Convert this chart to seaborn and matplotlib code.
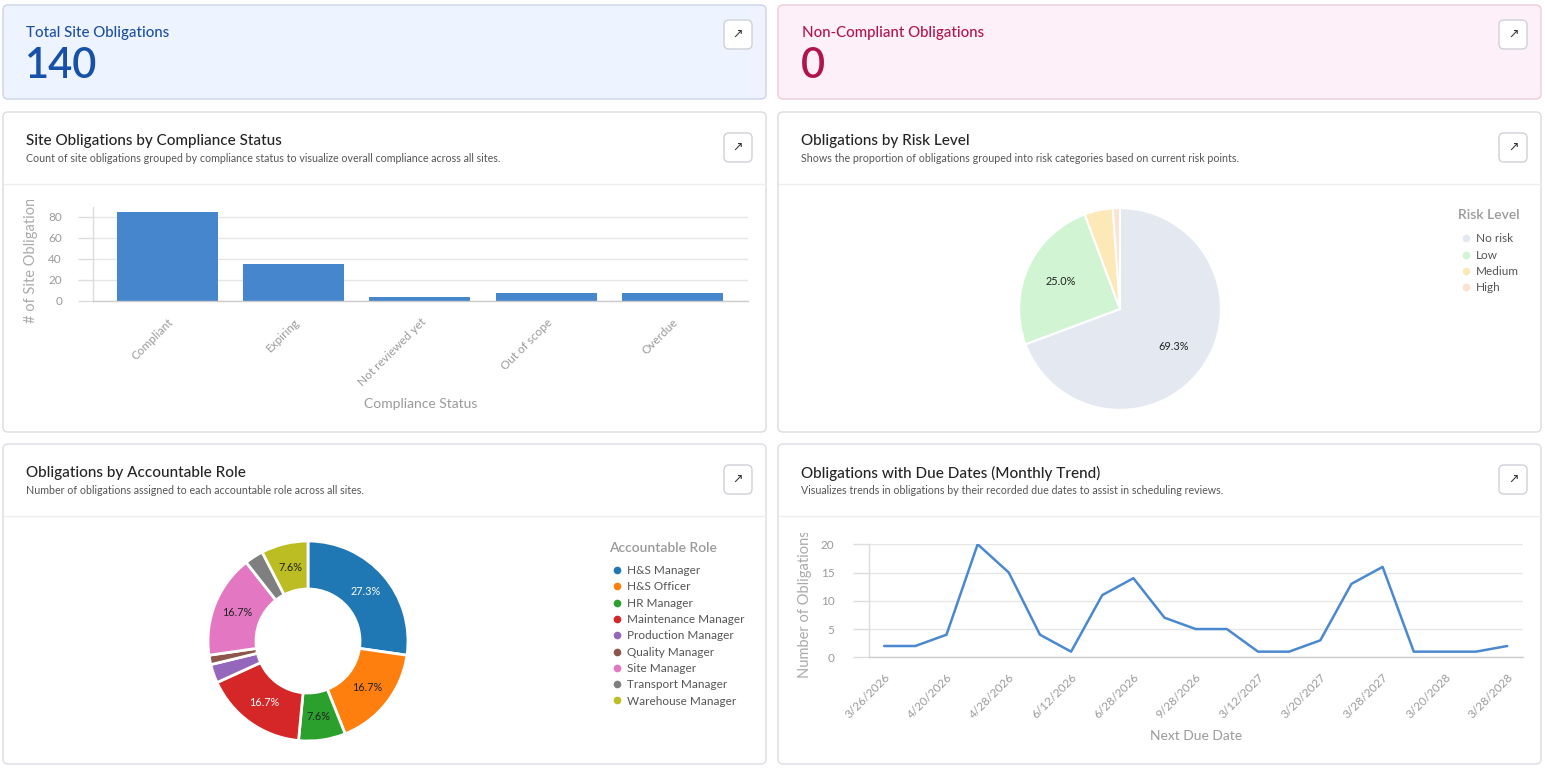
import matplotlib
matplotlib.use('Agg')
import matplotlib.pyplot as plt
import seaborn as sns
import pandas as pd
import numpy as np
from matplotlib.patches import FancyBboxPatch
from matplotlib.lines import Line2D
from matplotlib.transforms import Bbox, TransformedBbox, IdentityTransform

# ---------------- data ----------------
total_obligations = 140
non_compliant = 0

status_labels = ['Compliant', 'Expiring', 'Not reviewed yet', 'Out of scope', 'Overdue']
status_counts = [85, 35, 4, 8, 8]

risk_levels = ['No risk', 'Low', 'Medium', 'High']
risk_counts = [61, 22, 4, 1]
risk_colors = ['#e4e8f1', '#d1f5d3', '#fde8b8', '#fde3cf']

roles = ['H&S Manager', 'H&S Officer', 'HR Manager', 'Maintenance Manager',
         'Production Manager', 'Quality Manager', 'Site Manager',
         'Transport Manager', 'Warehouse Manager']
role_counts = [18, 11, 5, 11, 2, 1, 11, 2, 5]
role_colors = ['#1f77b4', '#ff7f0e', '#2ca02c', '#d62728', '#9467bd',
               '#8c564b', '#e377c2', '#7f7f7f', '#bcbd22']

due_dates = ['3/26/2026', '3/31/2026', '4/20/2026', '4/26/2026', '4/28/2026',
             '5/28/2026', '6/12/2026', '6/20/2026', '6/28/2026', '7/28/2026',
             '9/28/2026', '12/28/2026', '3/12/2027', '3/15/2027', '3/20/2027',
             '3/26/2027', '3/28/2027', '6/28/2027', '3/20/2028', '3/26/2028',
             '3/28/2028']
due_counts = [2, 2, 4, 20, 15, 4, 1, 11, 14, 7, 5, 5, 1, 1, 3, 13, 16, 1, 1, 1, 2]

# ---------------- setup ----------------
W, H = 1545, 768
sns.set_theme(style='white')
plt.rcParams['font.family'] = ['Lato', 'DejaVu Sans']

fig = plt.figure(figsize=(W / 100, H / 100), dpi=100)
fig.patch.set_facecolor('white')
bg = fig.add_axes([0, 0, 1, 1], zorder=-10)
bg.set_xlim(0, W)
bg.set_ylim(H, 0)
bg.axis('off')

TITLE_C = '#242424'
SUB_C = '#555555'
AX_C = '#9a9a9a'


def px_axes(x0, y0, x1, y1):
    return fig.add_axes([x0 / W, 1 - y1 / H, (x1 - x0) / W, (y1 - y0) / H])


def card(x0, y0, x1, y1, fc='white', ec='#d9dce1'):
    bg.add_patch(FancyBboxPatch((x0, y0), x1 - x0, y1 - y0,
                                boxstyle='round,pad=0,rounding_size=5',
                                fc=fc, ec=ec, lw=1))


def button(x0, y0):
    bg.add_patch(FancyBboxPatch((x0, y0), 28, 29,
                                boxstyle='round,pad=0,rounding_size=5',
                                fc='white', ec='#cdd1d8', lw=1))
    bg.text(x0 + 14, y0 + 14.5, '\u2197', ha='center', va='center',
            fontsize=9, color='#333333', family='DejaVu Sans')


def chart_card(x0, y0, x1, y1, title, sub):
    card(x0, y0, x1, y1)
    bg.text(x0 + 23, y0 + 29, title, ha='left', va='center', fontsize=11,
            color=TITLE_C, weight='medium')
    bg.text(x0 + 23, y0 + 46, sub, ha='left', va='center', fontsize=7.7,
            color=SUB_C)
    bg.plot([x0 + 0.5, x1 - 0.5], [y0 + 72, y0 + 72], color='#eeeeee', lw=1)
    button(x1 - 42, y0 + 21)


# KPI cards
card(3, 5, 766, 99, fc='#eef4ff', ec='#c9d3e6')
bg.text(26, 33, 'Total Site Obligations', ha='left', va='center', fontsize=10.8,
        color='#1c4fa3', weight='medium')
bg.text(25, 78, str(total_obligations), ha='left', va='baseline', fontsize=30,
        color='#1650a8', weight='semibold')
button(724, 20)

card(778, 5, 1541, 99, fc='#fdf0f8', ec='#ecccdc')
bg.text(802, 33, 'Non-Compliant Obligations', ha='left', va='center', fontsize=10.8,
        color='#b0144a', weight='medium')
bg.text(801, 78, str(non_compliant), ha='left', va='baseline', fontsize=30,
        color='#b0144a', weight='semibold')
button(1499, 20)

chart_card(3, 112, 766, 432, 'Site Obligations by Compliance Status',
           'Count of site obligations grouped by compliance status to visualize overall compliance across all sites.')
chart_card(778, 112, 1541, 432, 'Obligations by Risk Level',
           'Shows the proportion of obligations grouped into risk categories based on current risk points.')
chart_card(3, 444, 766, 764, 'Obligations by Accountable Role',
           'Number of obligations assigned to each accountable role across all sites.')
chart_card(778, 444, 1541, 764, 'Obligations with Due Dates (Monthly Trend)',
           'Visualizes trends in obligations by their recorded due dates to assist in scheduling reviews.')


def style_axes(ax):
    for s in ['top', 'right']:
        ax.spines[s].set_visible(False)
    for s in ['left', 'bottom']:
        ax.spines[s].set_color('#cccccc')
        ax.spines[s].set_linewidth(1)
    ax.spines['left'].set_color('#dddddd')
    ax.grid(axis='y', color='#e6e6e6', lw=1)
    ax.set_axisbelow(True)
    ax.set_facecolor('none')


def clip_label(label, top_px):
    label.set_clip_on(True)
    label.set_clip_box(TransformedBbox(Bbox.from_extents(0, 0, W, H - top_px),
                                       IdentityTransform()))


# ---------------- bar chart ----------------
ax1 = px_axes(92.6, 207, 748, 301)
df_status = pd.DataFrame({'status': status_labels, 'count': status_counts})
sns.barplot(data=df_status, x='status', y='count', color='#4686cc', saturation=1,
            width=0.8, linewidth=0, ax=ax1)
style_axes(ax1)
ax1.set_ylim(0, 89.5)
ax1.set_xlim(-0.593, 4.598)
ax1.set_yticks([0, 20, 40, 60, 80])
ax1.tick_params(axis='y', length=11, color='#dddddd', width=1, labelsize=8.5,
                labelcolor=AX_C, pad=11, left=True)
ax1.tick_params(axis='x', length=0, labelsize=8.5, labelcolor=AX_C, pad=11)
plt.setp(ax1.get_xticklabels(), rotation=45, ha='right', rotation_mode='anchor')
ax1.set_xlabel('Compliance Status', fontsize=10, color=AX_C)
ax1.xaxis.set_label_coords(0.5, -1.03)
ax1.set_ylabel('# of Site Obligations', fontsize=10.5, color='#aaaaaa')
ax1.yaxis.set_label_coords(-0.083, 0.47)
clip_label(ax1.yaxis.label, 200)

# ---------------- risk pie ----------------
ax2 = px_axes(1120 - 111, 309 - 111, 1120 + 111, 309 + 111)
ax2.pie(risk_counts, colors=risk_colors, startangle=90, counterclock=False,
        autopct=lambda p: f'{p:.1f}%' if p > 5 else '', pctdistance=0.65,
        wedgeprops=dict(edgecolor='white', linewidth=1.5),
        textprops=dict(fontsize=7.8, color='#222222'))
ax2.set_xlim(-1.1, 1.1)
ax2.set_ylim(-1.1, 1.1)
ax2.set_aspect('equal')

legend_kw = dict(loc='upper left', frameon=False, fontsize=8.5, title_fontsize=10,
                 labelcolor='#555555', handlelength=1.3, handletextpad=0.25,
                 labelspacing=0.45, alignment='left', borderpad=0, borderaxespad=0)

h_risk = [Line2D([], [], ls='', marker='o', markersize=4.5, mfc=c, mec=c) for c in risk_colors]
leg1 = fig.legend(h_risk, risk_levels, title='Risk Level',
                  bbox_to_anchor=(1458 / W, 1 - 209 / H), **legend_kw)
leg1.get_title().set_color('#9a9a9a')
leg1.get_title().set_weight('semibold')
leg1._legend_box.sep = 9

# ---------------- donut ----------------
ax3 = px_axes(308 - 110, 641 - 110, 308 + 110, 641 + 110)
wedges, texts, autotexts = ax3.pie(
    role_counts, colors=role_colors, startangle=90, counterclock=False,
    autopct=lambda p: f'{p:.1f}%' if p > 5 else '', pctdistance=0.76,
    wedgeprops=dict(width=0.48, edgecolor='white', linewidth=2),
    textprops=dict(fontsize=7.8, color='#222222'))
for i in (0, 3):
    autotexts[i].set_color('white')
ax3.set_xlim(-1.1, 1.1)
ax3.set_ylim(-1.1, 1.1)
ax3.set_aspect('equal')

h_role = [Line2D([], [], ls='', marker='o', markersize=4.5, mfc=c, mec=c) for c in role_colors]
leg2 = fig.legend(h_role, roles, title='Accountable Role',
                  bbox_to_anchor=(609 / W, 1 - 542 / H), **legend_kw)
leg2.get_title().set_color('#9a9a9a')
leg2.get_title().set_weight('semibold')
leg2._legend_box.sep = 8

# ---------------- line chart ----------------
ax4 = px_axes(868.6, 544, 1522.8, 657.3)
df_due = pd.DataFrame({'idx': np.arange(len(due_counts)), 'count': due_counts})
sns.lineplot(data=df_due, x='idx', y='count', color='#4a88d0', lw=1.8, ax=ax4)
style_axes(ax4)
ax4.set_ylim(0, 20.05)
ax4.set_xlim(-0.5, len(due_counts) - 0.5)
ax4.set_yticks([0, 5, 10, 15, 20])
ax4.set_xticks(np.arange(0, len(due_dates), 2))
ax4.set_xticklabels(due_dates[::2])
ax4.tick_params(axis='y', length=11.5, color='#dddddd', width=1, labelsize=8.5,
                labelcolor=AX_C, pad=13, left=True)
ax4.tick_params(axis='x', length=0, labelsize=8.5, labelcolor=AX_C, pad=10)
plt.setp(ax4.get_xticklabels(), rotation=45, ha='right', rotation_mode='anchor')
ax4.set_xlabel('Next Due Date', fontsize=10, color=AX_C)
ax4.xaxis.set_label_coords(0.5, -0.645)
ax4.set_ylabel('Number of Obligations', fontsize=10.5, color='#aaaaaa')
ax4.yaxis.set_label_coords(-0.0866, 0.47)
clip_label(ax4.yaxis.label, 533)

fig.savefig('out.png', dpi=100)
